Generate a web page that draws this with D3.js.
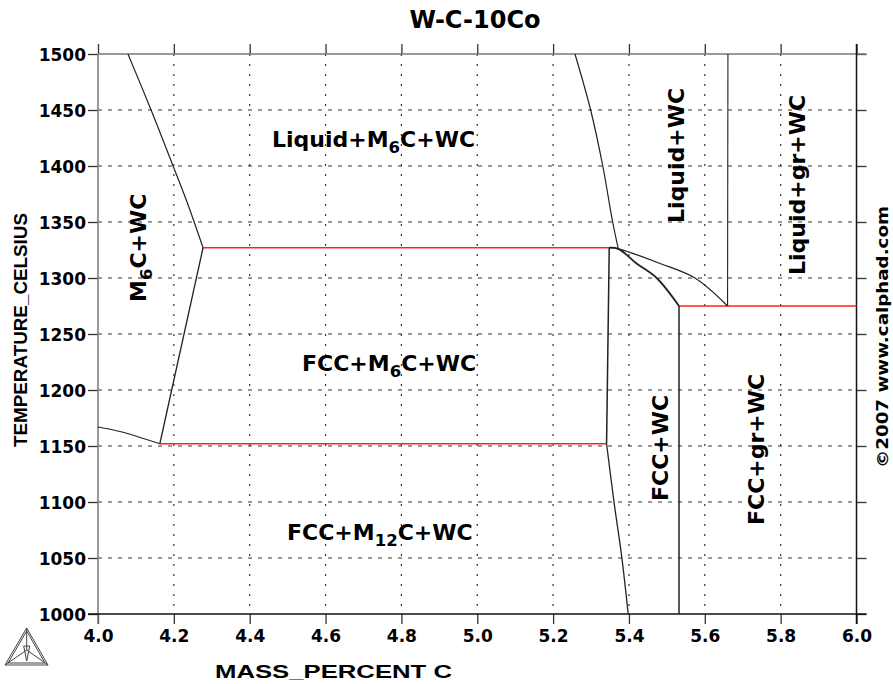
<!DOCTYPE html>
<html>
<head>
<meta charset="utf-8">
<script src="https://cdn.jsdelivr.net/npm/d3@7"></script>
<style>
  body { margin: 0; background: white; }
  svg { display: block; }
</style>
</head>
<body>
<div id="chart"></div>
<script>
// tick values
var xTicks = [4.0, 4.2, 4.4, 4.6, 4.8, 5.0, 5.2, 5.4, 5.6, 5.8, 6.0];
var yTicks = [1000, 1050, 1100, 1150, 1200, 1250, 1300, 1350, 1400, 1450, 1500];

// phase boundaries, [mass% C, T celsius]
var m6cUpper = [[4.079, 1500], [4.14, 1450], [4.198, 1400], [4.24, 1363], [4.277, 1327]];
var m6cLower = [[4.277, 1327], [4.163, 1152]];
var m12cTop = [[4.0, 1167], [4.058, 1163], [4.163, 1152]];
var liquidus = [[5.2577, 1500], [5.299, 1450], [5.331, 1400], [5.357, 1350], [5.372, 1326]];
var fccWcLeftA = [[5.348, 1327], [5.341, 1152]];
var fccWcLeftB = [[5.341, 1152], [5.361, 1099], [5.381, 1051], [5.398, 1000]];
var innerCurve = [[5.348, 1327], [5.372, 1326], [5.42, 1313], [5.473, 1300], [5.532, 1275]];
var outerCurve = [[5.348, 1327], [5.372, 1326], [5.482, 1313], [5.574, 1300], [5.660, 1275]];
var grLineLow = [[5.532, 1275], [5.532, 1000]];
var grLineHigh = [[5.660, 1275], [5.661, 1500]];

// invariant lines (red)
var invariants = [
    [[4.277, 1327], [5.348, 1327]],
    [[4.163, 1152], [5.341, 1152]],
    [[5.532, 1275], [6.0, 1275]]
];

var svgWidth = 893, svgHeight = 684;

var svg = d3.select('#chart').append('svg')
    .attr('width', svgWidth)
    .attr('height', svgHeight)
    .style('background', 'white');

var x = d3.scaleLinear().domain([4, 6]).range([98, 856.5]);
var y = d3.scaleLinear().domain([1000, 1500]).range([614, 54]);

var tickFont = 'DejaVu Sans, Verdana, sans-serif';

// grid lines
svg.append('g').selectAll('line')
    .data(xTicks.slice(1, -1)).enter().append('line')
    .attr('x1', d => x(d)).attr('x2', d => x(d))
    .attr('y1', y(1500)).attr('y2', y(1000))
    .attr('stroke', '#333').attr('stroke-width', 1.2)
    .attr('stroke-dasharray', '2,8');

svg.append('g').selectAll('line')
    .data(yTicks.slice(1, -1)).enter().append('line')
    .attr('x1', x(4)).attr('x2', x(6))
    .attr('y1', d => y(d)).attr('y2', d => y(d))
    .attr('stroke', '#333').attr('stroke-width', 1.2)
    .attr('stroke-dasharray', '4,6');

// axes
var xFmt = d3.format('.1f');
var axisBottom = svg.append('g')
    .attr('transform', 'translate(0,' + y(1000) + ')')
    .call(d3.axisBottom(x).tickValues(xTicks).tickFormat(xFmt).tickSize(10).tickPadding(6));
var axisTop = svg.append('g')
    .attr('transform', 'translate(0,' + y(1500) + ')')
    .call(d3.axisTop(x).tickValues(xTicks).tickFormat('').tickSize(10));
var axisLeft = svg.append('g')
    .attr('transform', 'translate(' + x(4) + ',0)')
    .call(d3.axisLeft(y).tickValues(yTicks).tickFormat(d3.format('d')).tickSize(10).tickPadding(2));
var axisRight = svg.append('g')
    .attr('transform', 'translate(' + x(6) + ',0)')
    .call(d3.axisRight(y).tickValues(yTicks).tickFormat('').tickSize(10));

[axisBottom, axisTop, axisLeft, axisRight].forEach(function (a) {
    a.select('.domain').remove();
    a.selectAll('line').attr('stroke', '#333').attr('stroke-width', 1.3);
    a.selectAll('text')
        .attr('font-family', tickFont)
        .attr('font-weight', 'bold')
        .attr('font-size', '17px')
        .attr('fill', '#000');
});
axisLeft.selectAll('text').attr('dy', '0.36em');
axisBottom.selectAll('text').attr('dy', '0.72em');

// frame
svg.append('line').attr('x1', x(4)).attr('x2', x(6) + 10).attr('y1', y(1500)).attr('y2', y(1500))
    .attr('stroke', '#777').attr('stroke-width', 1.5);
svg.append('line').attr('x1', x(4)).attr('x2', x(4)).attr('y1', y(1500)).attr('y2', y(1000) + 10)
    .attr('stroke', '#777').attr('stroke-width', 1.5);
svg.append('line').attr('x1', x(6)).attr('x2', x(6)).attr('y1', y(1500) - 10).attr('y2', y(1000) + 10)
    .attr('stroke', '#111').attr('stroke-width', 1.5);
svg.append('line').attr('x1', x(4) - 10).attr('x2', x(6) + 10).attr('y1', y(1000)).attr('y2', y(1000))
    .attr('stroke', '#111').attr('stroke-width', 1.5);

// boundaries
var curved = d3.line().x(d => x(d[0])).y(d => y(d[1])).curve(d3.curveCatmullRom);
var straight = d3.line().x(d => x(d[0])).y(d => y(d[1]));

svg.append('g').selectAll('path')
    .data(invariants).enter().append('path')
    .attr('d', straight)
    .attr('fill', 'none').attr('stroke', '#f22').attr('stroke-width', 1.4);

var bounds = [
    {pts: m6cUpper, c: true, w: 1.2},
    {pts: m6cLower, c: false, w: 1.3},
    {pts: m12cTop, c: true, w: 1.1},
    {pts: liquidus, c: true, w: 1.2},
    {pts: fccWcLeftA, c: false, w: 1.5},
    {pts: fccWcLeftB, c: true, w: 1.3},
    {pts: innerCurve, c: true, w: 1.8},
    {pts: outerCurve, c: true, w: 1.2},
    {pts: grLineLow, c: false, w: 1.5},
    {pts: grLineHigh, c: false, w: 1.1}
];
svg.append('g').selectAll('path')
    .data(bounds).enter().append('path')
    .attr('d', d => d.c ? curved(d.pts) : straight(d.pts))
    .attr('fill', 'none').attr('stroke', '#222').attr('stroke-width', d => d.w);

// phase labels
function label(parts, px, py, rot, size) {
    var t = svg.append('text')
        .attr('transform', 'translate(' + px + ',' + py + ')' + (rot ? ' rotate(-90)' : ''))
        .attr('font-family', tickFont)
        .attr('font-weight', 'bold')
        .attr('font-size', size + 'px')
        .attr('fill', '#000');
    parts.forEach(function (p) {
        if (p.sub) {
            t.append('tspan').text(p.sub).attr('font-size', (size * 0.75) + 'px').attr('dy', 6);
        } else {
            t.append('tspan').text(p.t).attr('dy', p.after ? -6 : 0);
        }
    });
    return t;
}

label([{t: 'Liquid+M'}, {sub: '6'}, {t: 'C+WC', after: true}], 272, 147, false, 22);
label([{t: 'FCC+M'}, {sub: '6'}, {t: 'C+WC', after: true}], 302, 371, false, 22);
label([{t: 'FCC+M'}, {sub: '12'}, {t: 'C+WC', after: true}], 287, 540, false, 22);
label([{t: 'M'}, {sub: '6'}, {t: 'C+WC', after: true}], 146, 302, true, 22);
label([{t: 'Liquid+WC'}], 684, 223, true, 22);
label([{t: 'Liquid+gr+WC'}], 805, 275, true, 22);
label([{t: 'FCC+WC'}], 668, 501, true, 22);
label([{t: 'FCC+gr+WC'}], 764, 525, true, 22);

// title and axis titles
svg.append('text').text('W-C-10Co')
    .attr('x', 475).attr('y', 28)
    .attr('text-anchor', 'middle')
    .attr('font-family', tickFont).attr('font-weight', 'bold').attr('font-size', '24px');

svg.append('text').text('MASS_PERCENT C')
    .attr('x', 215).attr('y', 678)
    .attr('textLength', 237).attr('lengthAdjust', 'spacingAndGlyphs')
    .attr('font-family', 'Liberation Sans, Arial, sans-serif').attr('font-weight', 'bold').attr('font-size', '19px');

svg.append('text').text('TEMPERATURE_CELSIUS')
    .attr('transform', 'translate(27,447) rotate(-90)')
    .attr('textLength', 234).attr('lengthAdjust', 'spacingAndGlyphs')
    .attr('font-family', 'Liberation Sans, Arial, sans-serif').attr('font-weight', 'bold').attr('font-size', '18px');

svg.append('text').text('\u00a92007 www.calphad.com')
    .attr('transform', 'translate(888,468) rotate(-90)')
    .attr('textLength', 262).attr('lengthAdjust', 'spacingAndGlyphs')
    .attr('font-family', tickFont).attr('font-weight', 'bold').attr('font-size', '16px');

// Thermo-Calc logo
var logo = svg.append('g').attr('fill', 'none').attr('stroke', '#444').attr('stroke-width', 1);
var ax = 26.7, ay = 628, lx = 5, rx = 48, by = 665, cx = 26.7, cy = 650;
logo.append('path').attr('d', 'M' + ax + ',' + ay + 'L' + lx + ',' + by + 'L' + rx + ',' + by + 'Z');
logo.append('path').attr('d', 'M' + ax + ',' + (ay + 3) + 'L' + (lx + 3) + ',' + (by - 2) + 'L' + (rx - 3) + ',' + (by - 2) + 'Z');
logo.append('path').attr('d', 'M' + ax + ',' + ay + 'L' + cx + ',' + cy + 'M' + lx + ',' + by + 'L' + cx + ',' + cy + 'M' + rx + ',' + by + 'L' + cx + ',' + cy);
logo.append('path').attr('d', 'M' + (ax - 3) + ',' + (cy - 4) + 'L' + (ax + 3) + ',' + (cy - 4) + 'L' + ax + ',' + (by - 4) + 'Z');
</script>
</body>
</html>
